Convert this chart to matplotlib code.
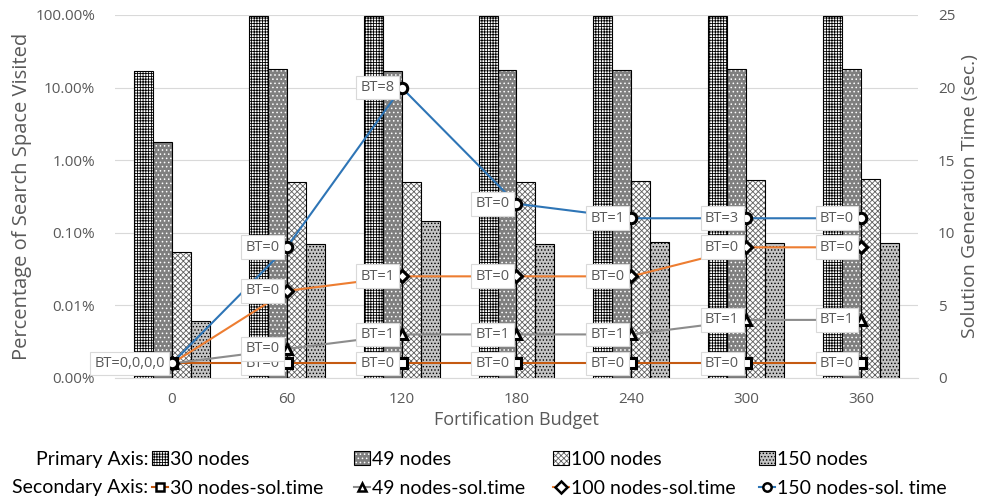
import matplotlib
matplotlib.use('Agg')
from matplotlib import pyplot as plt
from matplotlib.patches import Patch
from matplotlib.lines import Line2D
from matplotlib.ticker import FuncFormatter
import numpy as np

budgets = ['0', '60', '120', '180', '240', '300', '360']
bar_names = ['30 nodes', '49 nodes', '100 nodes', '150 nodes']
line_names = ['30 nodes-sol.time', '49 nodes-sol.time', '100 nodes-sol.time', '150 nodes-sol. time']

# percentage of search space visited (%)
visited_30 = [17.1, 97.0, 97.0, 97.0, 97.0, 97.0, 97.0]
visited_49 = [1.78, 17.8, 17.1, 17.5, 17.6, 17.8, 17.8]
visited_100 = [0.054, 0.50, 0.50, 0.50, 0.52, 0.54, 0.55]
visited_150 = [0.0061, 0.070, 0.145, 0.070, 0.074, 0.072, 0.072]

# solution generation time (sec.)
time_30 = [1, 1, 1, 1, 1, 1, 1]
time_49 = [1, 2, 3, 3, 3, 4, 4]
time_100 = [1, 6, 7, 7, 7, 9, 9]
time_150 = [1, 9, 20, 12, 11, 11, 11]

# BT labels (first budget shares one label for all four series)
bt_first = 'BT=0,0,0,0'
bt_30 = [None, '0', '0', '0', '0', '0', '0']
bt_49 = [None, '0', '1', '1', '1', '1', '1']
bt_100 = [None, '0', '1', '0', '0', '0', '0']
bt_150 = [None, '0', '8', '0', '1', '3', '0']

font = ['Open Sans', 'DejaVu Sans']
legend_font = ['Liberation Sans Narrow', 'Lato', 'DejaVu Sans']
grey = '#595959'
plt.rcParams['font.family'] = font
plt.rcParams['hatch.linewidth'] = 0.6

fig = plt.figure(figsize=(9.82, 4.99), dpi=100)
ax = fig.add_axes([0.1166, 0.2425, 0.8187, 0.7275])
ax2 = ax.twinx()

floor = 1e-5
x = np.arange(len(budgets))
w = 0.165
bar_styles = [
    dict(face='white', hatch='++++++', hcolor='black'),
    dict(face='#7f7f7f', hatch='....', hcolor='white'),
    dict(face='white', hatch='xxxxxx', hcolor='#606060'),
    dict(face='#c4c4c4', hatch='.....', hcolor='black'),
]
bar_handles = []
for k, vals in enumerate([visited_30, visited_49, visited_100, visited_150]):
    st = bar_styles[k]
    v = np.array(vals) / 100.0
    pos = x + (k - 1.5) * w
    ax.bar(pos, v - floor, w, bottom=floor, color=st['face'], edgecolor=st['hcolor'],
           hatch=st['hatch'], linewidth=0, zorder=2)
    ax.bar(pos, v - floor, w, bottom=floor, fill=False, edgecolor='black',
           linewidth=0.8, zorder=3)
    p1 = Patch(facecolor=st['face'], edgecolor=st['hcolor'], hatch=st['hatch'], linewidth=0)
    p2 = Patch(fill=False, edgecolor='black', linewidth=0.8)
    bar_handles.append((p1, p2))

ax.set_yscale('log')
ax.set_ylim(floor, 1)
ax.set_xlim(-0.5, len(budgets) - 0.5)
ax.set_yticks([1e-5, 1e-4, 1e-3, 1e-2, 1e-1, 1])
ax.yaxis.set_minor_locator(plt.NullLocator())
ax.yaxis.set_major_formatter(FuncFormatter(lambda v, p: f'{v * 100:.2f}%'))
ax.set_xticks(x)
ax.set_xticklabels(budgets)
ax.yaxis.grid(True, color='#d9d9d9', linewidth=0.8)
ax.set_axisbelow(True)
for name, sp in ax.spines.items():
    sp.set_visible(name == 'bottom')
ax.spines['bottom'].set_color('#d9d9d9')
ax.tick_params(length=0, labelsize=11, labelcolor=grey, pad=10)
ax.tick_params(axis='y', pad=14)
ax.set_xlabel('Fortification Budget', fontsize=13, color=grey, labelpad=3)
ax.set_ylabel('Percentage of Search Space Visited', fontsize=14.5, color=grey, labelpad=2)

# secondary axis: solution times
line_colors = ['#c55a11', '#8c8c8c', '#ed7d31', '#2e75b6']
markers = ['s', '^', 'D', 'o']
msizes = [7, 7, 6, 7.5]
line_handles = []
for k, t in enumerate([time_30, time_49, time_100, time_150]):
    ax2.plot(x, t, color=line_colors[k], linewidth=1.5, zorder=3)
    ax2.plot(x, t, linestyle='none', marker=markers[k], markersize=msizes[k],
             markerfacecolor='white', markeredgecolor='black', markeredgewidth=2.2, zorder=4)
    line_handles.append(Line2D([], [], color=line_colors[k], linewidth=1.5, marker=markers[k],
                               markersize=6, markerfacecolor='white', markeredgecolor='black',
                               markeredgewidth=1.8))

box = dict(boxstyle='square,pad=0.3', facecolor='white', edgecolor='#d9d9d9', linewidth=0.8)
for t, bts in zip([time_30, time_49, time_100, time_150], [bt_30, bt_49, bt_100, bt_150]):
    for i, b in enumerate(bts):
        if b is None:
            continue
        ax2.annotate(f'BT={b}', (x[i], t[i]), xytext=(-7, 0), textcoords='offset pixels',
                     ha='right', va='center', fontsize=10.5, color=grey, bbox=box, zorder=5)
ax2.annotate(bt_first, (x[0], time_30[0]), xytext=(-7, 0), textcoords='offset pixels',
             ha='right', va='center', fontsize=10.5, color=grey, bbox=box, zorder=5)

ax2.set_ylim(0, 25)
ax2.set_yticks([0, 5, 10, 15, 20, 25])
for sp in ax2.spines.values():
    sp.set_visible(False)
ax2.tick_params(length=0, labelsize=11, labelcolor=grey, pad=14)
ax2.set_ylabel('Solution Generation Time (sec.)', fontsize=14, color=grey, labelpad=4)

# legend: one small legend per column, so the two rows line up
col_x = [152, 354, 553, 759]
for k in range(4):
    fig.legend([bar_handles[k], line_handles[k]], [bar_names[k], line_names[k]],
               loc='upper left', bbox_to_anchor=(col_x[k] / 982, 1 - 451 / 499),
               frameon=False, borderpad=0, borderaxespad=0, handlelength=0.8,
               handleheight=0.7, handletextpad=0.15, labelspacing=0.6,
               prop=dict(family=legend_font, size=14))
fig.text(148 / 982, 1 - 459 / 499, 'Primary Axis:', ha='right', va='center',
         fontsize=14, family=legend_font)
fig.text(148 / 982, 1 - 487 / 499, 'Secondary Axis:', ha='right', va='center',
         fontsize=14, family=legend_font)

fig.savefig('out.png', dpi=100)
